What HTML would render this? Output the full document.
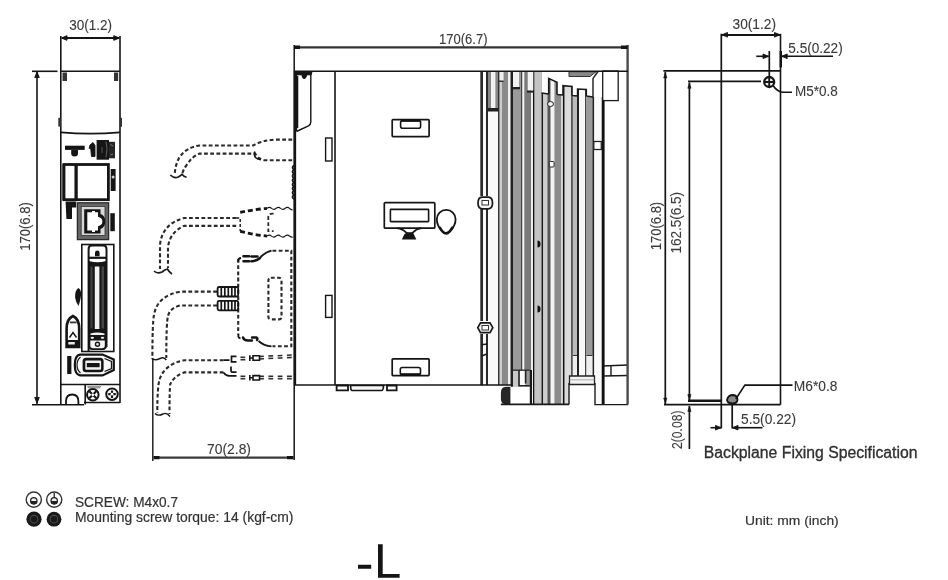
<!DOCTYPE html>
<html><head><meta charset="utf-8">
<style>
html,body{margin:0;padding:0;background:#fff;width:948px;height:580px;overflow:hidden}
svg{display:block;will-change:transform}
text{font-family:"Liberation Sans",sans-serif;fill:#333}
.d{font-size:14px;fill:#3a3a3a;stroke:#3a3a3a;stroke-width:0.1px}
</style></head><body>
<svg width="948" height="580" viewBox="0 0 948 580">
<rect width="948" height="580" fill="#fff"/>
<g id="front" stroke="#151515" fill="none" stroke-width="1.6">
  <!-- ext + body verticals -->
  <line x1="60.8" y1="36" x2="60.8" y2="405"/>
  <line x1="120" y1="36" x2="120" y2="403"/>
  <line x1="60.8" y1="71.3" x2="120" y2="71.3"/>
  <!-- dim 30 -->
  <line x1="62" y1="38" x2="119" y2="38" stroke-width="2"/>
  <path d="M61.5 38 l5.5 -2.3 v4.6z M119.3 38 l-5.5 -2.3 v4.6z" fill="#151515" stroke="#151515" stroke-width="1"/>
  <!-- 170 dim -->
  <line x1="32" y1="71.3" x2="57.5" y2="71.3"/>
  <line x1="37" y1="72" x2="37" y2="404"/>
  <path d="M37 72 l-2.3 5.5 h4.6z M37 403 l-2.3 -5.5 h4.6z" fill="#151515" stroke="#151515" stroke-width="0.9" stroke-linejoin="round"/>
  <line x1="32" y1="404.8" x2="84" y2="404.8"/>
  <line x1="84" y1="402.5" x2="120" y2="402.5"/>
  <!-- top dark marks -->
  <rect x="62.5" y="72.5" width="4.5" height="8.5" fill="#333" stroke="none"/>
  <rect x="114" y="72.5" width="4.2" height="8.5" fill="#333" stroke="none"/>
  <rect x="58.3" y="117.8" width="2.6" height="8.8" fill="#333" stroke="none"/>
  <rect x="120" y="117.8" width="2" height="9" fill="#333" stroke="none"/>
  <path d="M61 132.3 Q90 135 120 132.3" stroke-width="1.7"/>
  <!-- T shape etc -->
  <rect x="65" y="145.7" width="19.7" height="4.2" fill="#151515" stroke="none"/>
  <path d="M71.2 150 h6.8 v3.5 a3.4 3 0 0 1 -6.8 0z" fill="#151515" stroke="none"/>
  <path d="M90 145 l3 -2.5 l2 3 v11 h-3.5 l-0.8 -8 h-1.5z" fill="#151515" stroke="#151515" stroke-width="0.9" stroke-linejoin="round"/>
  <rect x="96.6" y="140" width="12.4" height="19.7" fill="#151515" stroke="none"/>
  <rect x="109" y="141.8" width="6" height="16.5" fill="#262626" stroke="none"/>
  <path d="M110.5 144.5 l2.5 1.5 M110.5 155 l2.5 -1" stroke="#999" stroke-width="0.8"/>
  <path d="M106 141.5 q2 6 0 16" stroke="#777" stroke-width="0.8"/>
  <path d="M102 147 v6" stroke="#666" stroke-width="0.8"/>
  <!-- big box -->
  <rect x="64" y="164.5" width="44.4" height="35.2" stroke-width="2.8"/><line x1="63.2" y1="164" x2="63.2" y2="200.5" stroke-width="1.6"/>
  <line x1="76.1" y1="164" x2="76.1" y2="200" stroke-width="3.3"/>
  <rect x="110.7" y="169" width="4.9" height="22" fill="#151515" stroke="none"/>
  <circle cx="113.1" cy="177" r="1.5" fill="#ccc" stroke="none"/>
  <path d="M65.6 201.5 h10.6 v6 h-4.2 v11.5 h-5.6z" fill="#151515" stroke="none"/>
  <!-- RJ45 -->
  <rect x="77.4" y="202.8" width="31.2" height="36.8" fill="#666" stroke="#2a2a2a" stroke-width="1.3"/>
  <rect x="81.2" y="206.4" width="23.8" height="29" fill="#d8d8d8" stroke="#333" stroke-width="0.8"/>
  <path d="M84.2 209.2 H100.5 V214 Q105.3 215.5 105.3 221.5 Q105.3 227.5 100.5 229 V233.6 H84.2z" fill="#151515" stroke="none"/>
  <path d="M87.3 212.2 H92 V210.9 H95 V212.2 H98 V216.8 Q102.4 217.8 102.4 221.5 Q102.4 225.2 98 226.2 V230.6 H95 V232 H92 V230.6 H87.3z" fill="#fff" stroke="none"/>
  <rect x="110.3" y="213.2" width="4.5" height="18" fill="#151515" stroke="none"/>
  <!-- connector housing -->
  <rect x="81.8" y="244.5" width="32" height="107" stroke-width="1.6"/>
  <path d="M88.6 351 V249 Q88.6 245.6 92 245.6 H103 Q106.5 245.6 106.5 249 V347" stroke-width="2"/>
  <path d="M88.6 347.5 H106.5" stroke-width="1.5"/>
  <path d="M95 256.3 v-3.5 q0 -2.3 2.3 -2.3 q2.3 0 2.3 2.3 v3.5z" fill="#151515" stroke="none"/>
  <line x1="89" y1="257.8" x2="106" y2="257.8" stroke-width="2.2"/>
  <path d="M89 261 Q97.5 263.5 106 261 V264.5 H89z" fill="#151515" stroke="none"/>
  <rect x="88.6" y="264" width="17.9" height="67.5" fill="#151515" stroke="none"/>
  <rect x="94.8" y="266.5" width="4.6" height="62.5" fill="#f2f2f2" stroke="none"/>
  <rect x="90.5" y="266.5" width="2" height="62" fill="#444" stroke="none"/>
  <rect x="101.5" y="266.5" width="2.5" height="62" fill="#444" stroke="none"/>
  <path d="M88.6 331 H106.5 V346 Q106.5 350 103 350 H92 Q88.6 350 88.6 346z" fill="#151515" stroke="none"/>
  <path d="M90.3 340.5 H104.8 V345.5 Q104.8 348.3 102 348.3 H93 Q90.3 348.3 90.3 345.5z" fill="#f4f4f4" stroke="none"/>
  <path d="M90.5 333.5 Q97 331.5 104.5 333.5 V335 H90.5z" fill="#f0f0f0" stroke="none"/>
  <ellipse cx="92.3" cy="337.8" rx="1.7" ry="1.1" fill="#eee" stroke="none"/>
  <ellipse cx="102.5" cy="337.8" rx="1.7" ry="1.1" fill="#eee" stroke="none"/>
  <circle cx="97.5" cy="344.3" r="2" stroke-width="1.4"/>
  <!-- leaf -->
  <path d="M78.3 288 q3 1.5 2.8 7 q-0.5 5 -2.5 11 q-2.8 -3 -3.5 -8.5 q-0.3 -7 3.2 -9.5z" fill="#151515" stroke="none"/>
  <!-- bell -->
  <path d="M66.6 347 V328.5 Q66.6 319 73 316 Q79.2 319 79.2 328.5 V347z" stroke-width="2.6" fill="#fafafa"/>
  <rect x="70" y="321.5" width="6.5" height="1.8" fill="#333" stroke="none"/>
  <path d="M69.5 337.5 L73 332.5 L76.5 337.5" stroke-width="1.4"/>
  <rect x="66.6" y="340" width="12.6" height="7" fill="#151515" stroke="none"/>
  <rect x="68.3" y="342" width="6.5" height="2.5" fill="#e8e8e8" stroke="none"/>
  <!-- bottom connector -->
  <rect x="67.2" y="356" width="4.2" height="18" fill="#151515" stroke="none"/>
  <path d="M80 354.6 H102.5 L113.8 359.5 V370 L102.5 375.4 H80 Q74.8 374.5 74.8 365 Q74.8 355.5 80 354.6z" stroke-width="2.2" fill="#fafafa"/>
  <path d="M80.5 357 Q77 360 77 365 Q77 370 80.5 373" stroke-width="1.2"/>
  <rect x="82.6" y="357.8" width="21" height="14.5" rx="3.5" fill="#151515" stroke="none"/>
  <rect x="85.3" y="360.5" width="15.8" height="9.2" rx="1" fill="#f2f2f2" stroke="none"/>
  <rect x="86.8" y="363" width="12.8" height="4.2" fill="#151515" stroke="none"/>
  <path d="M104.5 358.5 L111.5 361.5 V368.5 L104.5 371.5" stroke-width="1.3"/>
  <!-- bottom section -->
  <line x1="61" y1="384.5" x2="120" y2="384.5"/>
  <line x1="85.2" y1="384.5" x2="85.2" y2="404.5"/>
  <path d="M66 404.5 v-3 q0 -7 6.2 -7 q6.2 0 6.2 7 v3" stroke-width="1.8"/>
  <path d="M87 386 h14.5 l-1.5 2.6 h-11.5z" fill="#999" stroke="none"/>
  <circle cx="92.8" cy="394.8" r="5.8" stroke-width="2"/>
  <circle cx="112" cy="394.2" r="5.8" stroke-width="2"/>
  <path d="M89.3 391.3 l7 7 M96.3 391.3 l-7 7" stroke-width="2.2"/>
  <path d="M108.2 394.2 h7.6 M112 390.4 v7.6" stroke-width="2.2"/>
  <circle cx="92.8" cy="394.8" r="1.4" fill="#fff" stroke="none"/>
  <circle cx="112" cy="394.2" r="1.4" fill="#fff" stroke="none"/>
</g>
<text class="d" transform="translate(30,250.8) rotate(-90)" textLength="48.6" lengthAdjust="spacingAndGlyphs">170(6.8)</text>
<text class="d" x="69.3" y="29.8" textLength="42.8" lengthAdjust="spacingAndGlyphs">30(1.2)</text>

<g id="side">
<rect x="480.3" y="71" width="2.7" height="333.5" fill="#2a2a2a"/>
<rect x="483" y="71" width="3" height="333.5" fill="#fafafa"/>
<rect x="486" y="71" width="2" height="333.5" fill="#2a2a2a"/>
<rect x="488" y="71" width="10" height="333.5" fill="#fafafa"/>
<rect x="498" y="71" width="1.7" height="333.5" fill="#333"/>
<rect x="499.7" y="71" width="2.3" height="333.5" fill="#ccc"/>
<rect x="502" y="71" width="6" height="333.5" fill="#8a8a8a"/>
<rect x="508" y="71" width="2.5" height="333.5" fill="#f0f0f0"/>
<rect x="510.5" y="71" width="2.5" height="333.5" fill="#222"/>
<rect x="513" y="71" width="7.8" height="333.5" fill="#9a9a9a"/>
<rect x="520.8" y="71" width="1.7" height="333.5" fill="#444"/>
<rect x="522.5" y="71" width="1.8" height="333.5" fill="#f4f4f4"/>
<rect x="524.3" y="71" width="6.9" height="333.5" fill="#7a7a7a"/>
<rect x="531.2" y="71" width="1.8" height="333.5" fill="#eee"/>
<rect x="533" y="71" width="1.6" height="333.5" fill="#111"/>
<rect x="534.6" y="71" width="6.9" height="333.5" fill="#c4c4c4"/>
<rect x="541.5" y="71" width="1.8" height="333.5" fill="#1a1a1a"/>
<rect x="543.3" y="71" width="4.1" height="333.5" fill="#cdcdcd"/>
<rect x="547.4" y="71" width="3.3" height="333.5" fill="#555"/>
<rect x="550.7" y="71" width="3.7" height="333.5" fill="#f4f4f4"/>
<rect x="554.4" y="71" width="7.0" height="333.5" fill="#8c8c8c"/>
<rect x="561.4" y="71" width="1.5" height="333.5" fill="#ddd"/>
<rect x="562.9" y="71" width="1.8" height="333.5" fill="#111"/>
<rect x="564.7" y="71" width="6.3" height="333.5" fill="#dcdcdc"/>
<rect x="571" y="71" width="1.9" height="333.5" fill="#555"/>
<rect x="572.9" y="71" width="4.1" height="333.5" fill="#bbb"/>
<rect x="577" y="71" width="2.1" height="333.5" fill="#222"/>
<rect x="579.1" y="71" width="5.9" height="333.5" fill="#f8f8f8"/>
<rect x="585" y="71" width="1.5" height="333.5" fill="#444"/>
<rect x="586.5" y="71" width="5.9" height="333.5" fill="#9a9a9a"/>
<rect x="592.4" y="71" width="1.9" height="333.5" fill="#222"/>
<rect x="594.3" y="71" width="7.4" height="333.5" fill="#fafafa"/>
<rect x="601.7" y="71" width="2.9" height="333.5" fill="#111"/>
<!-- white overlays top -->
<path d="M541.5 71 H603 V97 L593 97 L586.3 96 V89.5 L577.6 89 V96 L572 95.5 V86.5 L563 85.6 V95 L557 94.5 V82.3 L548.7 78.4 V94 L541.5 93z" fill="#fff"/>
<path d="M548.7 94 V78.4 L557 82.3 V94.5 M563 95 V85.6 L572 86.5 V95.5 M577.6 96 V89 L586.3 89.5 V96 M541.5 93 L548.7 94 M557 94.5 L563 95 M572 95.5 L577.6 96 M586.3 96 L593 97" fill="none" stroke="#1a1a1a" stroke-width="1.6"/>
<path d="M569 71.7 H596 L590 76.5 H569z" fill="#888" stroke="#333" stroke-width="1"/>
<path d="M593 97 V78.4 L598 71.5" fill="none" stroke="#1a1a1a" stroke-width="1.4"/>
<!-- top left fin details -->
<rect x="483" y="72" width="3" height="40" fill="#fff"/>
<rect x="488" y="72" width="10" height="36" fill="#888"/>
<rect x="491" y="72" width="4.4" height="36" fill="#f2f2f2"/>
<rect x="487.5" y="108" width="11" height="3.5" fill="#222"/>
<rect x="499.7" y="72" width="3.9" height="9.5" fill="#eee"/>
<rect x="498.4" y="80.5" width="5.3" height="1.5" fill="#333"/>
<rect x="513" y="72" width="6" height="15" fill="#f2f2f2"/>
<rect x="512" y="87" width="8" height="2.3" fill="#222"/>
<rect x="527.7" y="72" width="5.6" height="18.6" fill="#f2f2f2"/>
<rect x="527" y="90.6" width="7" height="2" fill="#222"/>
<!-- little white marks on fin 541-548 -->
<ellipse cx="550.5" cy="104" rx="3" ry="2.5" fill="#f4f4f4" stroke="#222" stroke-width="1"/>
<rect x="549.3" y="161.5" width="4.8" height="5.5" rx="1" fill="#fafafa" stroke="#222" stroke-width="1"/>
<!-- screw heads on 533-541 strip -->
<path d="M537.5 240.5 a3 3.5 0 0 1 0 7z" fill="#111"/>
<path d="M537.5 305.5 a3 3.5 0 0 1 0 7z" fill="#111"/>
<!-- right top rect -->
<rect x="602.7" y="71" width="15.5" height="29.6" fill="#fff" stroke="#1a1a1a" stroke-width="1.3"/>
<rect x="593.8" y="141.5" width="7.5" height="8" fill="#fff" stroke="#222" stroke-width="1.3"/>
<!-- nuts on left line -->
<rect x="477" y="196" width="16" height="13" fill="#fff"/>
<path d="M478 203 Q478 197.5 482 197.2 H488.5 Q492.5 197.5 492.5 203 Q492.5 208.5 488.5 208.8 H482 Q478 208.5 478 203z" fill="#f4f4f4" stroke="#1a1a1a" stroke-width="1.7"/><rect x="482" y="200.5" width="6.5" height="4.5" fill="#fff" stroke="#333" stroke-width="1"/>
<rect x="477" y="321" width="16" height="13" fill="#fff"/>
<path d="M477.8 327.7 L480.5 322.8 H490 L492.8 327.7 L490 332.6 H480.5z" fill="#f4f4f4" stroke="#1a1a1a" stroke-width="1.7"/><rect x="482" y="325.5" width="6.5" height="4.5" fill="#fff" stroke="#333" stroke-width="1"/>
<path d="M481.5 344.8 L487 344 M481.5 356 L487 354" stroke="#1a1a1a" stroke-width="1.4"/>
<!-- bottom overlays -->
<rect x="480" y="385.2" width="31.5" height="25" fill="#fff"/>
<rect x="510.4" y="386.5" width="19.6" height="18" fill="#fff"/>
<rect x="569" y="383" width="26" height="25" fill="#fff"/>
<rect x="606" y="376" width="20" height="28" fill="#fff"/>
<rect x="572.9" y="355.5" width="4.1" height="20" fill="#eee"/>
<rect x="586.5" y="355.5" width="5.9" height="20" fill="#eee"/>
<path d="M572.9 355.5 H577 M586.5 355.5 H592.4" stroke="#333" stroke-width="1.2"/>
<path d="M569.5 376 H594.5 V384.5 H569.5z" fill="#f2f2f2" stroke="#222" stroke-width="1.3"/>
<path d="M569.5 379.8 H594.5" stroke="#999" stroke-width="0.8"/>
<rect x="513" y="370.5" width="6" height="15.5" fill="#c8c8c8"/>
<rect x="519.3" y="370.5" width="6.3" height="15" fill="#fafafa"/>
<rect x="525.6" y="370.5" width="4.2" height="15.5" fill="#999"/>
<path d="M512.8 370.2 H529.8" stroke="#333" stroke-width="1.4"/>
<path d="M519 370 V385.8 H529.8 M525.6 370 V383.5" stroke="#222" stroke-width="1.6" fill="none"/>
<path d="M530.9 370 V404.3" stroke="#1a1a1a" stroke-width="2.2"/>
<path d="M510.4 386.8 V404.3 H506 Q500.9 404.3 500.9 399 V393 Q500.9 386.8 506 386.8z" fill="#262626"/>
<path d="M500.9 404.3 H569 M511.8 385 V386.8" stroke="#1a1a1a" stroke-width="1.8" fill="none"/>
<path d="M569 404.6 V383 M595 383 V404.6 H628 M602.7 366 L628 365 M602.7 376 L628 375.5 M611 366 V376" stroke="#1a1a1a" stroke-width="1.4" fill="none"/>

<line x1="627.6" y1="45" x2="627.6" y2="404.6" stroke="#4a4a4a" stroke-width="2.4"/>
</g>
<g id="mid" stroke="#151515" fill="none" stroke-width="1.6">
  <line x1="294.2" y1="45" x2="294.2" y2="460" stroke-width="1.5"/>
  <line x1="295" y1="71" x2="295" y2="385" stroke-width="2.3"/>
  <line x1="295.6" y1="71" x2="295.6" y2="131" stroke-width="3.2"/>
  <line x1="294" y1="71.2" x2="628" y2="71.2" stroke-width="1.5"/>
  <line x1="294" y1="47.4" x2="628" y2="47.4" stroke-width="2.1" stroke="#333"/>
  <rect x="294" y="45.5" width="6" height="3.5" fill="#151515" stroke="none"/>
  <rect x="621" y="45.5" width="6.5" height="3.5" fill="#151515" stroke="none"/>
  <line x1="335" y1="71" x2="335" y2="385"/>
  <line x1="294" y1="385" x2="511.5" y2="385" stroke-width="1.6"/>
  <!-- bezel -->
  <path d="M297.6 76 V128 M310.8 73 V122 Q310.8 124.5 308.5 125.8 L296.4 131.5" stroke-width="1.4"/>
  <path d="M296.5 71.5 H312.6 L311.5 75.3 H307.3 Q306 79.2 304 79 Q302.2 78.8 301.5 75.3 H296.5z" fill="#151515" stroke="none"/>
  <rect x="325.6" y="138" width="6.4" height="23" stroke-width="1.4"/>
  <rect x="325.6" y="295.4" width="6.4" height="22" stroke-width="1.4"/>
  <!-- handles -->
  <rect x="392.2" y="119.6" width="36.9" height="17" rx="0.8" stroke-width="1.7"/>
  <rect x="400.6" y="120.6" width="20" height="7.6" rx="2" stroke-width="1.6"/>
  <rect x="401" y="119.6" width="19.2" height="2.2" fill="#111" stroke="none"/>
  <rect x="392.2" y="358.8" width="36.9" height="16.8" rx="0.8" stroke-width="1.7"/>
  <rect x="400.3" y="367.5" width="20.2" height="7.5" rx="2" stroke-width="1.6"/>
  <rect x="401" y="373.2" width="19" height="2.4" fill="#111" stroke="none"/>
  <!-- display -->
  <rect x="384.3" y="202.6" width="50.5" height="25.6" rx="1" stroke-width="1.7"/>
  <rect x="390.4" y="209.4" width="38.2" height="12.2" rx="0.5" stroke-width="1.6"/>
  <path d="M397 228.2 Q403 229 406 232.5 Q409.5 235 413 232.5 Q416 229 421.5 228.2" stroke-width="1.8"/>
  <path d="M401.8 239.6 L404.5 234 Q409 231 413.5 233.5 L416.3 239.6z" fill="#151515" stroke="none"/>
  <path d="M446.2 209.8 A9.4 9.4 0 0 1 455.6 219.2 Q455.6 226 449.5 231.5 Q446 234.5 442.5 231.5 Q436.8 226 436.8 219.2 A9.4 9.4 0 0 1 446.2 209.8z" stroke-width="1.8"/>
  <path d="M439.5 227 Q443 233.5 446 233.5 Q449 233.5 452.8 227" stroke-width="2.6"/>
  <!-- bottom connector -->
  <path d="M336.6 385.5 h11.4 v4.8 h-11.4z M387 385.5 h9.6 v4.8 h-9.6z" fill="#fff" stroke-width="1.8"/>
  <path d="M350.6 385.5 h33 q-0.3 5 -2 5 h-29.5 q-1.5 0 -1.5 -5z" fill="#f6f6f6" stroke-width="1.7"/>
  <!-- left edge scallops -->
  <path d="M294 165.5 q-3.2 2.1 0 4.2 q-3.2 2.1 0 4.2 q-3.2 2.1 0 4.2 q-3.2 2.1 0 4.2 q-3.2 2.1 0 4.2 q-3.2 2.1 0 4.2 q-3.2 2.1 0 4.2 q-3.2 2.1 0 4.2" stroke-width="1.6"/>
</g>

<text class="d" x="439" y="44" textLength="48.5" lengthAdjust="spacingAndGlyphs">170(6.7)</text>

<g id="cables" fill="none" stroke="#2a2a2a" stroke-width="2.1" stroke-dasharray="3.8 2.4">
  <!-- cable 1 -->
  <path d="M292.2 139.6 H275 Q262 140.5 253 145.5 H200 Q186 147 179 158 Q175.5 165 174.8 173"/>
  <path d="M292.2 160.3 H265 Q258 159 255.3 153.6 H200 Q192 156 186 166 Q183 170 182.2 174"/>
  <!-- cable 2 -->
  <path d="M236.2 218 H184 Q162 224 160 245 V269"/>
  <path d="M236.2 225.9 H184 Q170 232 168 247 V268"/>
  <path d="M170.3 175 Q174 178.5 177.7 177.3 Q180 176 182 174.3 Q183.5 176.5 186.6 177.3" stroke-dasharray="none" stroke-width="1.7" stroke="#1a1a1a"/>
  <path d="M154 271 Q157 274 162 272 Q165 269.5 167.4 269 Q169 272 172 274" stroke-dasharray="none" stroke-width="1.7" stroke="#1a1a1a"/>
  <path d="M273.6 213.6 Q268.3 213.2 268.3 217 V231.2 H273.6" stroke-width="1.8"/>
  <!-- D-sub -->
  <path d="M238.2 259 V334.8"/>
  <path d="M272.5 250.7 H291.3 V346.3 H272.5"/>
  <rect x="268.4" y="277.7" width="13.1" height="41.7" rx="2.5"/>
  <!-- cable 3 -->
  <path d="M217 291.6 H180.2 Q157 296 154 315 Q152.4 322 152.4 357"/>
  <path d="M217 305.5 H180.2 Q170 308 168 316 Q166.3 322 166.3 358"/>
  <!-- cable 4 -->
  <path d="M223.5 360.2 H184.2 Q165 364 159.7 379 Q157.3 386 157.3 413"/>
  <path d="M223.5 372.4 H184.2 Q174 376 170.3 384 Q169.5 390 169.5 414"/>
  <path d="M240.5 358.6 L292.2 356.2" stroke-width="4" stroke-dasharray="4.8 4.5"/>
  <path d="M240.5 377.6 L292.2 377.6" stroke-width="4" stroke-dasharray="4.8 4.5"/>
  <path d="M239 358.6 L293 356.2 M239 377.6 L293 377.6" stroke="#fff" stroke-width="0.9" stroke-dasharray="none"/>
</g>
<g id="cablesolid" fill="none" stroke="#151515" stroke-width="1.4">
  <path d="M254.8 151.5 Q253.6 155 255.5 157.5 Q257.5 159.5 261 159.6" stroke-width="1.6"/>
  <!-- cable 2 connector thick dashes + wavy -->
  <path d="M240.2 212.4 Q253 209.5 267 208.4" stroke-width="2.8" stroke-dasharray="5 3"/>
  <path d="M240.2 231.4 Q253 234.5 267 236.1" stroke-width="2.8" stroke-dasharray="5 3"/>
  <path d="M267 208.4 q2.5 -2 4.5 0 q2.5 2 4.5 0 q2.5 -2 4.5 0 q2.5 2 4.5 0 q2.5 -2 4.5 0 q2 1.5 3.2 1.6" stroke-width="1.2"/>
  <path d="M267 236.1 q2.5 -2 4.5 0 q2.5 2 4.5 0 q2.5 -2 4.5 0 q2.5 2 4.5 0 q2.5 -2 4.5 0 q2 1.5 3.2 0.9" stroke-width="1.2"/>
  <path d="M236.2 218 H240.2 V230.6 H242" stroke-width="1.4" stroke-dasharray="3 2"/>
  <!-- D-sub wavy corners -->
  <path d="M238.4 262 V260 Q238.4 258.3 241 258" stroke-width="1.8"/><path d="M243.5 256.3 H249 M251.5 256.5 H257.5 M243.5 261.3 H249 M251.5 261.3 Q256 261 259.5 258.5" stroke-width="2.6" stroke-linecap="round"/><path d="M259.5 258.5 Q264 252.5 271.5 250.6" stroke-width="1.9"/>
  
  <path d="M238.4 334 V336.8 Q238.7 338 240.5 338.5" stroke-width="1.8"/><path d="M243 337.5 Q244 340.5 248 340.5 H252 M252 337.5 H256.5 Q258 338.5 257 340" stroke-width="2.4" stroke-linecap="round"/><path d="M258.5 341 Q264 346 271.5 346.3" stroke-width="1.8"/>
  <!-- grips -->
  <rect x="217.6" y="287" width="20.6" height="9.5" rx="1.5" stroke-width="1.8"/>
  <rect x="217.6" y="300.8" width="20.6" height="9.5" rx="1.5" stroke-width="1.8"/>
  <path d="M221.3 287 v9.5 M224.8 287 v9.5 M228.3 287 v9.5 M231.8 287 v9.5 M235 287 v9.5 M221.3 300.8 v9.5 M224.8 300.8 v9.5 M228.3 300.8 v9.5 M231.8 300.8 v9.5 M235 300.8 v9.5" stroke-width="1.7"/>
  <!-- cable 4 connector bracket/H -->
  <path d="M223.5 360.2 H229.5 M236.5 356.3 H231.5 V361.8 H236.5 M231 366.5 V370.5 Q231 372.2 233 372.2 H236.5 M223.5 372.4 Q226 375.8 229 375.8 H236.5" stroke-width="1.7"/>
  <rect x="248.5" y="354.5" width="11.5" height="6.5" fill="#fff" stroke="none"/><rect x="248.5" y="374.5" width="11.5" height="6.5" fill="#fff" stroke="none"/><path d="M249.8 355.2 V361 M249.8 375 V380.6 M249.8 358 H253 M249.8 377.8 H253 M253 355.8 H259.5 V360.3 H253z M253 375.6 H259.5 V380 H253z" stroke-width="1.6"/>
  <path d="M151.5 358.5 Q155 361 160 358.5 Q164 356.5 166.3 360" stroke-width="1.4"/>
  <path d="M155 413.5 Q158 416.5 163 414 Q166.5 412 170 416.5" stroke-width="1.4"/>
  <!-- 70 dim -->
  <line x1="152.8" y1="358" x2="152.8" y2="461"/>
  <line x1="154" y1="457.6" x2="293" y2="457.6" stroke-width="2.2" stroke="#3a3a3a"/>
  <path d="M153.5 456 h6 v3.2 h-6z M287 456 h6.5 v3.2 h-6.5z" fill="#151515" stroke="none"/>
</g>
<text class="d" x="207" y="453.8" textLength="44" lengthAdjust="spacingAndGlyphs">70(2.8)</text>


<g id="right" fill="none" stroke="#151515" stroke-width="1.7">
  <line x1="721.3" y1="33.8" x2="721.3" y2="428.5"/>
  <line x1="780.5" y1="33.8" x2="780.5" y2="404.7" stroke-width="1.6"/>
  <line x1="722" y1="34.9" x2="780" y2="34.9" stroke-width="2"/>
  <path d="M722 34.8 l5.5 -2.3 v4.6z M780 34.8 l-5.5 -2.3 v4.6z" fill="#151515" stroke="#151515" stroke-width="0.9" stroke-linejoin="round"/>
  <line x1="663.4" y1="70.9" x2="780.5" y2="70.9"/>
  <line x1="688" y1="81.4" x2="761" y2="81.4"/>
  <line x1="665.3" y1="72" x2="665.3" y2="404.7"/>
  <path d="M665.3 72.5 l-1.6 5.5 h3.2z M665.3 403.5 l-1.6 -5.5 h3.2z" fill="#151515" stroke="#151515" stroke-width="0.6" stroke-linejoin="round"/>
  <line x1="689.4" y1="82.5" x2="689.4" y2="400.8"/>
  <path d="M689.4 82.8 l-1.6 5.5 h3.2z M689.4 400 l-1.6 -5.5 h3.2z" fill="#151515" stroke="#151515" stroke-width="0.6" stroke-linejoin="round"/>
  <line x1="664" y1="404.7" x2="780.5" y2="404.7"/>
  <line x1="688" y1="400.8" x2="722" y2="400.8" stroke-width="2.6"/>
  <line x1="689.4" y1="406" x2="689.4" y2="449"/>
  <path d="M689.4 406 l-1.6 5.5 h3.2z" fill="#151515" stroke="#151515" stroke-width="0.6" stroke-linejoin="round"/>
  <!-- 5.5 top -->
  <line x1="769.3" y1="51" x2="769.3" y2="82"/>
  <line x1="780.8" y1="51" x2="780.8" y2="67.4" stroke-width="2.4"/>
  <line x1="756.3" y1="56.3" x2="768.5" y2="56.3" stroke-width="1.6"/>
  <path d="M768.5 56.3 l-5.5 -2.3 v4.6z" fill="#151515" stroke="#151515" stroke-width="0.9" stroke-linejoin="round"/>
  <line x1="781.7" y1="56.3" x2="833" y2="56.3" stroke-width="1.6"/>
  <path d="M781.7 56.3 l5.5 -2.3 v4.6z" fill="#151515" stroke="#151515" stroke-width="0.9" stroke-linejoin="round"/>
  <circle cx="769.2" cy="82" r="5" stroke-width="2.3" fill="#eee"/><path d="M769.2 77 v10 M765 82 h8" stroke-width="1.8"/>
  <path d="M772.6 85 Q777 91.5 782.3 92.2 H792" stroke-width="1.6"/>
  <!-- bottom M6 -->
  <path d="M727 400 q1 -5 6 -5 q4.5 0.5 4.5 5 q-0.5 3.5 -5 3.5 q-5 0 -5.5 -3.5z" fill="#888" stroke-width="1.8"/>
  <path d="M735.8 399 L744.9 385.1 H792.5" stroke-width="1.6"/>
  <line x1="732.2" y1="405" x2="732.2" y2="428.5"/>
  <line x1="710.5" y1="427.7" x2="721" y2="427.7" stroke-width="1.6"/>
  <path d="M721 427.7 l-5.5 -2.3 v4.6z" fill="#151515" stroke="#151515" stroke-width="0.9" stroke-linejoin="round"/>
  <line x1="732.5" y1="427.7" x2="762.5" y2="427.7" stroke-width="1.6"/>
  <path d="M732.5 427.7 l5.5 -2.3 v4.6z" fill="#151515" stroke="#151515" stroke-width="0.9" stroke-linejoin="round"/>
</g>
<g font-size="12.5">
<text class="d" x="732.5" y="28.8" textLength="43.5" lengthAdjust="spacingAndGlyphs">30(1.2)</text>
<text class="d" x="788.3" y="52.5" textLength="54.4" lengthAdjust="spacingAndGlyphs">5.5(0.22)</text>
<text class="d" x="795" y="95.8" textLength="42.8" lengthAdjust="spacingAndGlyphs" font-size="12.5">M5*0.8</text>
<text class="d" x="793.8" y="390.5" textLength="43.7" lengthAdjust="spacingAndGlyphs" font-size="12.5">M6*0.8</text>
<text class="d" x="741" y="423.5" textLength="55" lengthAdjust="spacingAndGlyphs">5.5(0.22)</text>
<text class="d" transform="translate(660.5,250.2) rotate(-90)" textLength="48.4" lengthAdjust="spacingAndGlyphs">170(6.8)</text>
<text class="d" transform="translate(681,253.5) rotate(-90)" textLength="61.4" lengthAdjust="spacingAndGlyphs">162.5(6.5)</text>
<text class="d" transform="translate(682,449) rotate(-90)" textLength="38.5" lengthAdjust="spacingAndGlyphs">2(0.08)</text>
</g>
<text x="703.8" y="457.6" font-size="16" fill="#222" stroke="#222" stroke-width="0.3" textLength="213.7" lengthAdjust="spacingAndGlyphs">Backplane Fixing Specification</text>
<text x="745" y="524.8" font-size="13.5" fill="#333" stroke="#333" stroke-width="0.2" textLength="93.7" lengthAdjust="spacingAndGlyphs">Unit: mm (inch)</text>
<g id="legend">
  <circle cx="33.8" cy="499.6" r="7.6" fill="none" stroke="#333" stroke-width="1.4"/>
  <circle cx="54.2" cy="499.6" r="7.6" fill="none" stroke="#333" stroke-width="1.4"/>
  <circle cx="33.8" cy="500.8" r="3.2" fill="#f0f0f0" stroke="#222" stroke-width="1.3"/>
  <path d="M30.6 501 h6.4 a3.2 3.2 0 0 1 -6.4 0z" fill="#222"/>
  <circle cx="54.2" cy="500.8" r="3.2" fill="#f0f0f0" stroke="#222" stroke-width="1.3"/>
  <path d="M51 501 h6.4 a3.2 3.2 0 0 1 -6.4 0z" fill="#222"/>
  <path d="M54.2 493 v4.5" stroke="#222" stroke-width="1.3"/>
  <circle cx="34" cy="519.2" r="7.6" fill="#1a1a1a"/>
  <circle cx="54" cy="519.2" r="7.4" fill="#1a1a1a"/>
  <circle cx="34" cy="519.2" r="3.8" fill="none" stroke="#4a4a4a" stroke-width="1.1"/>
  <circle cx="54" cy="519.2" r="3.8" fill="none" stroke="#4a4a4a" stroke-width="1.1"/>
</g>
<text x="75" y="506.6" font-size="14" fill="#333" stroke="#333" stroke-width="0.2" textLength="103" lengthAdjust="spacingAndGlyphs">SCREW: M4x0.7</text>
<text x="75" y="522.4" font-size="14" fill="#333" stroke="#333" stroke-width="0.2" textLength="218.5" lengthAdjust="spacingAndGlyphs">Mounting screw torque: 14 (kgf-cm)</text>
<path d="M358 564.8 h13.2 v3.9 h-13.2z M378 544.3 h4.7 v29.8 h16.9 v3.7 h-21.6z" fill="#151515"/>

</svg>
</body></html>
